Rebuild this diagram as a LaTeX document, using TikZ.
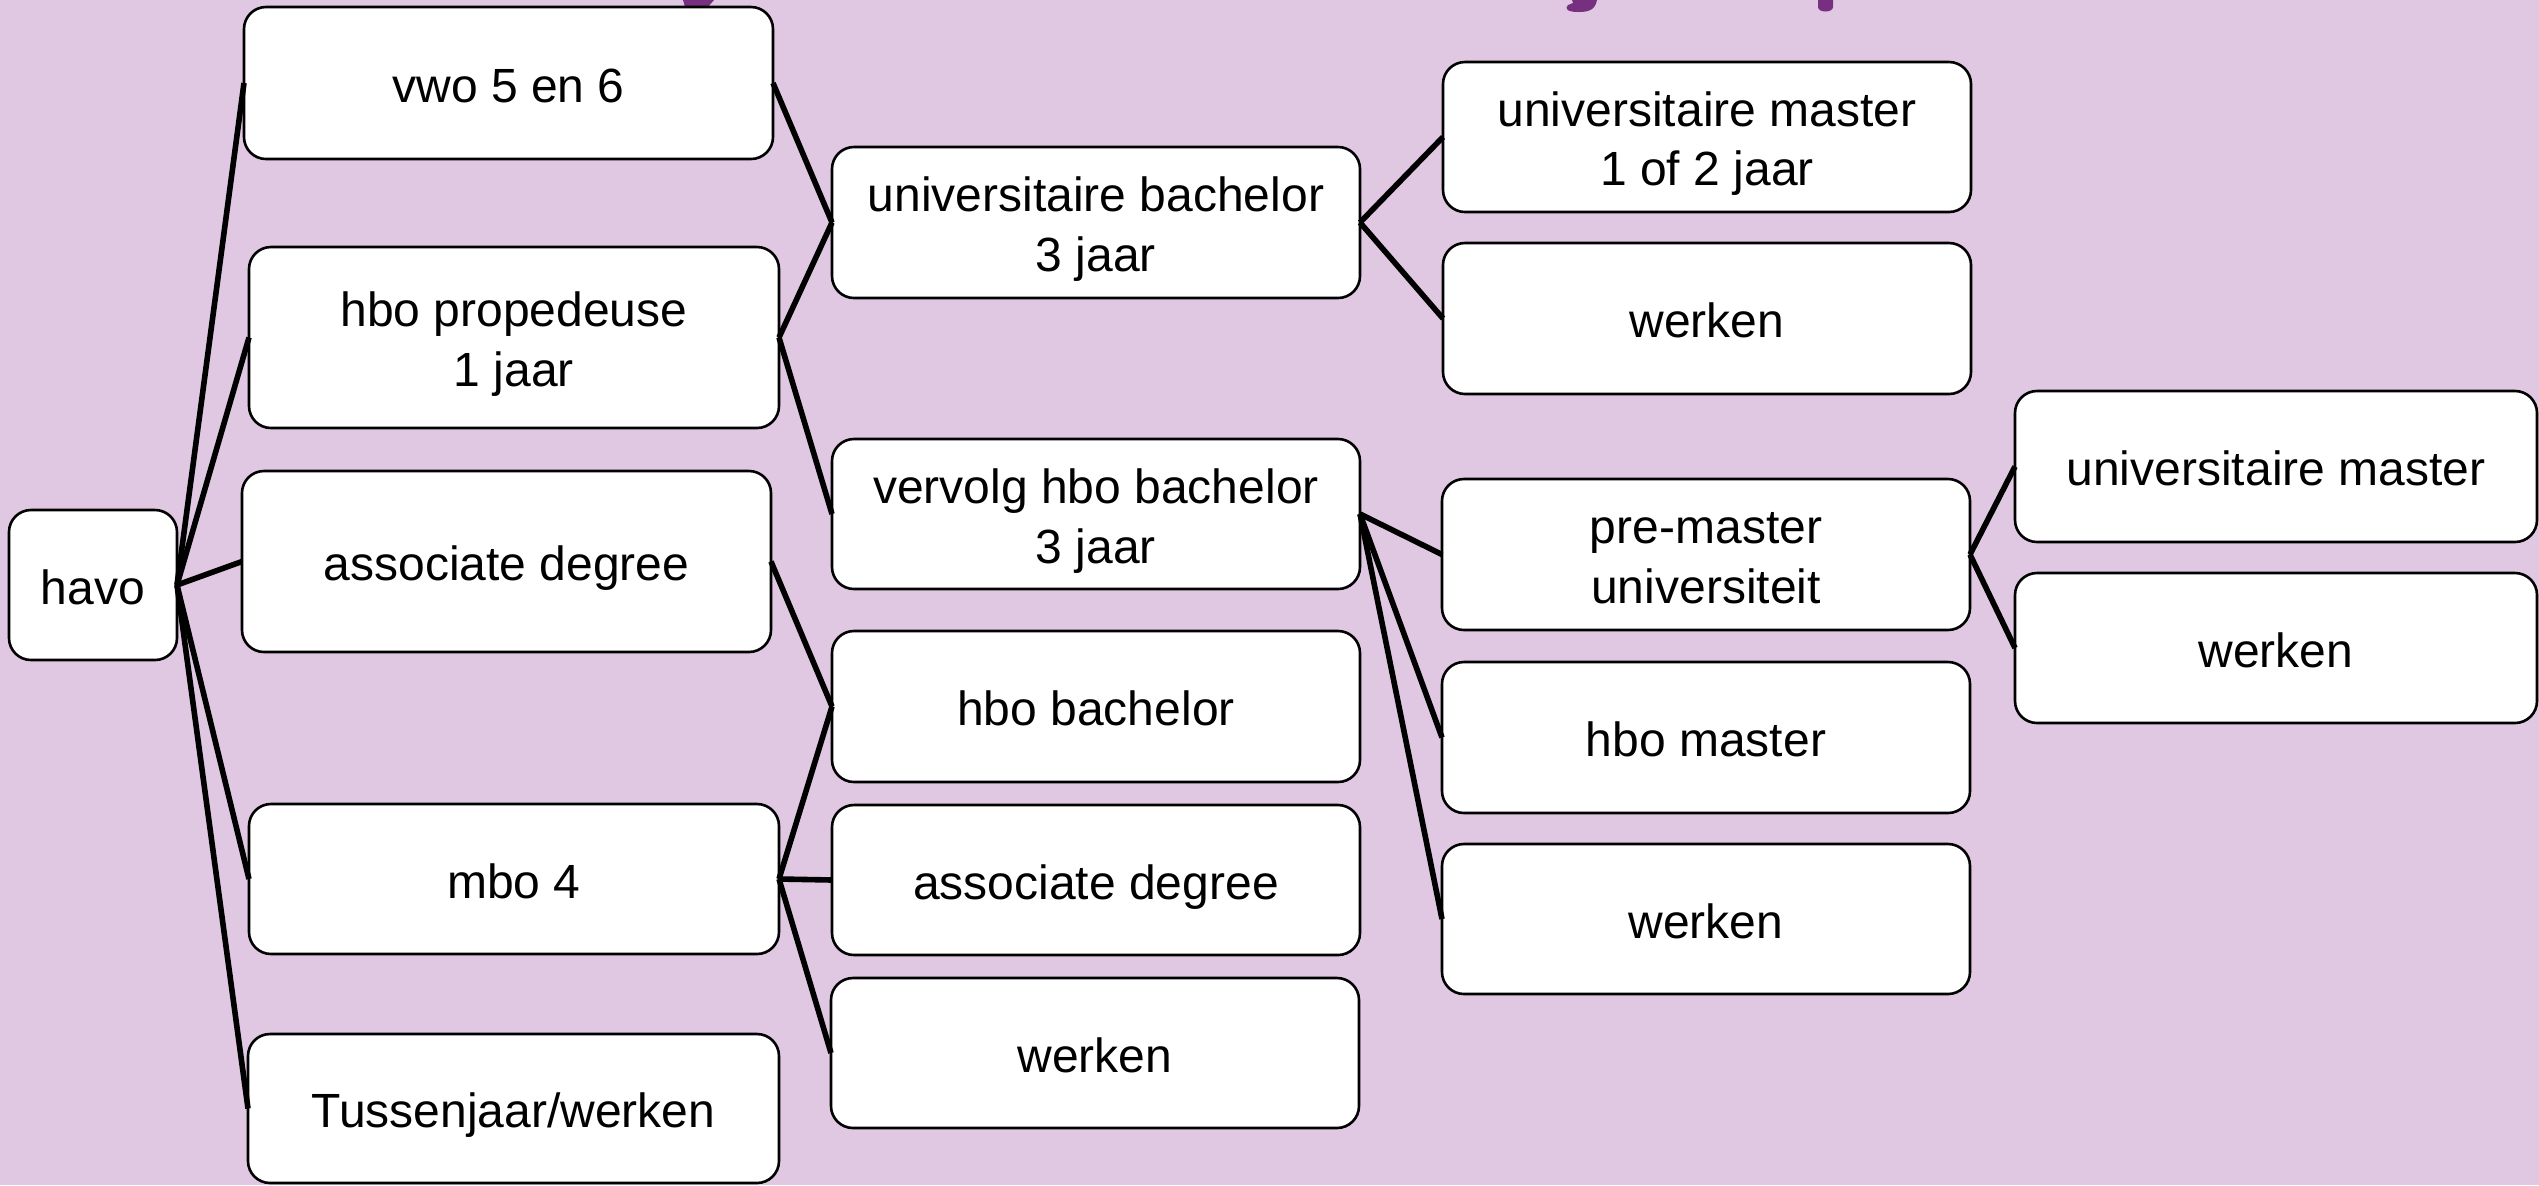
\documentclass[tikz,border=0pt]{standalone}
\usepackage{fontspec}
\setmainfont{Liberation Sans}
\definecolor{bgpurple}{HTML}{E0C8E2}
\definecolor{ttlpurple}{HTML}{76307F}
\newcommand\bxstrut{\rule[-0.2em]{0pt}{1.2em}}
\tikzset{
  box/.style={draw=black, line width=1.3pt, fill=white, rounded corners=11pt,
    align=center, inner sep=0pt, outer sep=0pt,
    font=\fontsize{24}{28.5}\selectfont},
  link/.style={line width=2.8pt, draw=black},
  frag/.style={fill=ttlpurple, draw=none}
}
\begin{document}
\begin{tikzpicture}[x=0.5pt,y=-0.5pt]
\useasboundingbox (0,0) rectangle (2539,1185);
\fill[bgpurple] (0,0) rectangle (2539,1185);
% fragments of the clipped title
\fill[frag] (683,0) -- (714,0) -- (708,7) -- (685,7) -- cycle;
\fill[frag] (1572,0) -- (1597,0) .. controls (1595,10) and (1589,12) .. (1578,12)
  .. controls (1568,12) and (1564,9) .. (1568,5) -- (1573,3) -- cycle;
\fill[frag] (1818,0) -- (1833,0) -- (1833,7) .. controls (1833,13) and (1818,13) .. (1818,7) -- cycle;

% column 0
\node[box, minimum width=84pt, minimum height=75pt] (havo) at (93,585) {\bxstrut havo};
% column 1
\node[box, minimum width=264.5pt, minimum height=76pt] (vwo) at (508.5,83) {\bxstrut vwo 5 en 6};
\node[box, minimum width=265pt, minimum height=90.5pt] (hbop) at (514,337.5) {\bxstrut hbo propedeuse\\\bxstrut 1 jaar};
\node[box, minimum width=264.5pt, minimum height=90.5pt] (ad1) at (506.5,561.5) {\bxstrut associate degree};
\node[box, minimum width=265pt, minimum height=75pt] (mbo) at (514,879) {\bxstrut mbo 4};
\node[box, minimum width=265.5pt, minimum height=74.5pt] (tus) at (513.5,1108.5) {\bxstrut Tussenjaar/werken};
% column 2
\node[box, minimum width=264pt, minimum height=75.5pt] (unib) at (1096,222.5) {\bxstrut universitaire bachelor\\\bxstrut 3 jaar};
\node[box, minimum width=264pt, minimum height=75pt] (verv) at (1096,514) {\bxstrut vervolg hbo bachelor\\\bxstrut 3 jaar};
\node[box, minimum width=264pt, minimum height=75.5pt] (hbob) at (1096,706.5) {\bxstrut hbo bachelor};
\node[box, minimum width=264pt, minimum height=75pt] (ad2) at (1096,880) {\bxstrut associate degree};
\node[box, minimum width=264pt, minimum height=75pt] (werk2) at (1095,1053) {\bxstrut werken};
% column 3
\node[box, minimum width=264pt, minimum height=75pt] (unim) at (1707,137) {\bxstrut universitaire master\\\bxstrut 1 of 2 jaar};
\node[box, minimum width=264pt, minimum height=75.5pt] (werk3a) at (1707,318.5) {\bxstrut werken};
\node[box, minimum width=264pt, minimum height=75.5pt] (pre) at (1706,554.5) {\bxstrut pre-master\\\bxstrut universiteit};
\node[box, minimum width=264pt, minimum height=75.5pt] (hbom) at (1706,737.5) {\bxstrut hbo master};
\node[box, minimum width=264pt, minimum height=75pt] (werk3b) at (1706,919) {\bxstrut werken};
% column 4
\node[box, minimum width=261pt, minimum height=75.5pt] (unim2) at (2276,466.5) {\bxstrut universitaire master};
\node[box, minimum width=261pt, minimum height=75pt] (werk4) at (2276,648) {\bxstrut werken};

% connectors
\foreach \t in {vwo,hbop,ad1,mbo,tus}
  \draw[link] (havo.east) -- (\t.west);
\draw[link] (vwo.east) -- (unib.west);
\draw[link] (hbop.east) -- (unib.west);
\draw[link] (hbop.east) -- (verv.west);
\draw[link] (ad1.east) -- (hbob.west);
\draw[link] (mbo.east) -- (hbob.west);
\draw[link] (mbo.east) -- (ad2.west);
\draw[link] (mbo.east) -- (werk2.west);
\draw[link] (unib.east) -- (unim.west);
\draw[link] (unib.east) -- (werk3a.west);
\draw[link] (verv.east) -- (pre.west);
\draw[link] (verv.east) -- (hbom.west);
\draw[link] (verv.east) -- (werk3b.west);
\draw[link] (pre.east) -- (unim2.west);
\draw[link] (pre.east) -- (werk4.west);
\end{tikzpicture}
\end{document}
